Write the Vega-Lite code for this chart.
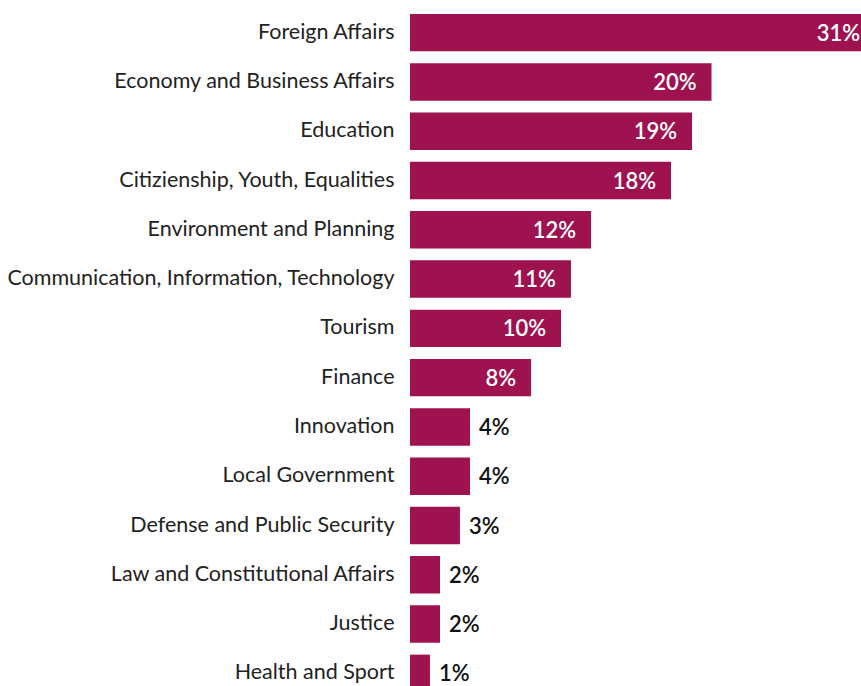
{
  "$schema": "https://vega.github.io/schema/vega-lite/v6.json",
  "autosize": "none",
  "padding": {"left": 410, "top": 8, "right": 0, "bottom": 0},
  "width": 465,
  "height": 690,
  "background": "white",
  "config": {"view": {"stroke": null}, "font": "Lato"},
  "data": {"values": [
    {"category": "Foreign Affairs", "value": 31.0, "label": "31%"},
    {"category": "Economy and Business Affairs", "value": 20.1, "label": "20%"},
    {"category": "Education", "value": 18.8, "label": "19%"},
    {"category": "Citizienship, Youth, Equalities", "value": 17.4, "label": "18%"},
    {"category": "Environment and Planning", "value": 12.07, "label": "12%"},
    {"category": "Communication, Information, Technology", "value": 10.73, "label": "11%"},
    {"category": "Tourism", "value": 10.07, "label": "10%"},
    {"category": "Finance", "value": 8.07, "label": "8%"},
    {"category": "Innovation", "value": 4.0, "label": "4%"},
    {"category": "Local Government", "value": 4.0, "label": "4%"},
    {"category": "Defense and Public Security", "value": 3.33, "label": "3%"},
    {"category": "Law and Constitutional Affairs", "value": 2.0, "label": "2%"},
    {"category": "Justice", "value": 2.0, "label": "2%"},
    {"category": "Health and Sport", "value": 1.33, "label": "1%"}
  ]},
  "encoding": {
    "y": {
      "field": "category", "type": "nominal", "sort": null, "title": null,
      "scale": {"paddingInner": 0.24, "paddingOuter": 0.12},
      "axis": {"domain": false, "ticks": false, "labelPadding": 16, "labelFontSize": 21.5, "labelColor": "#222222", "labelLimit": 0, "labelFont": "Lato"}
    },
    "x": {
      "field": "value", "type": "quantitative", "title": null,
      "scale": {"domain": [0, 31], "nice": false, "zero": true},
      "axis": null
    }
  },
  "layer": [
    {"mark": {"type": "bar", "color": "#9E1250"}},
    {
      "transform": [{"filter": "datum.value >= 6"}],
      "mark": {"type": "text", "align": "right", "baseline": "middle", "dx": -15, "dy": 1, "fontSize": 22, "fontWeight": 600, "color": "white", "font": "Lato"},
      "encoding": {"text": {"field": "label"}}
    },
    {
      "transform": [{"filter": "datum.value < 6"}],
      "mark": {"type": "text", "align": "left", "baseline": "middle", "dx": 9, "dy": 1, "fontSize": 22, "fontWeight": 600, "color": "#111111", "font": "Lato"},
      "encoding": {"text": {"field": "label"}}
    }
  ]
}
